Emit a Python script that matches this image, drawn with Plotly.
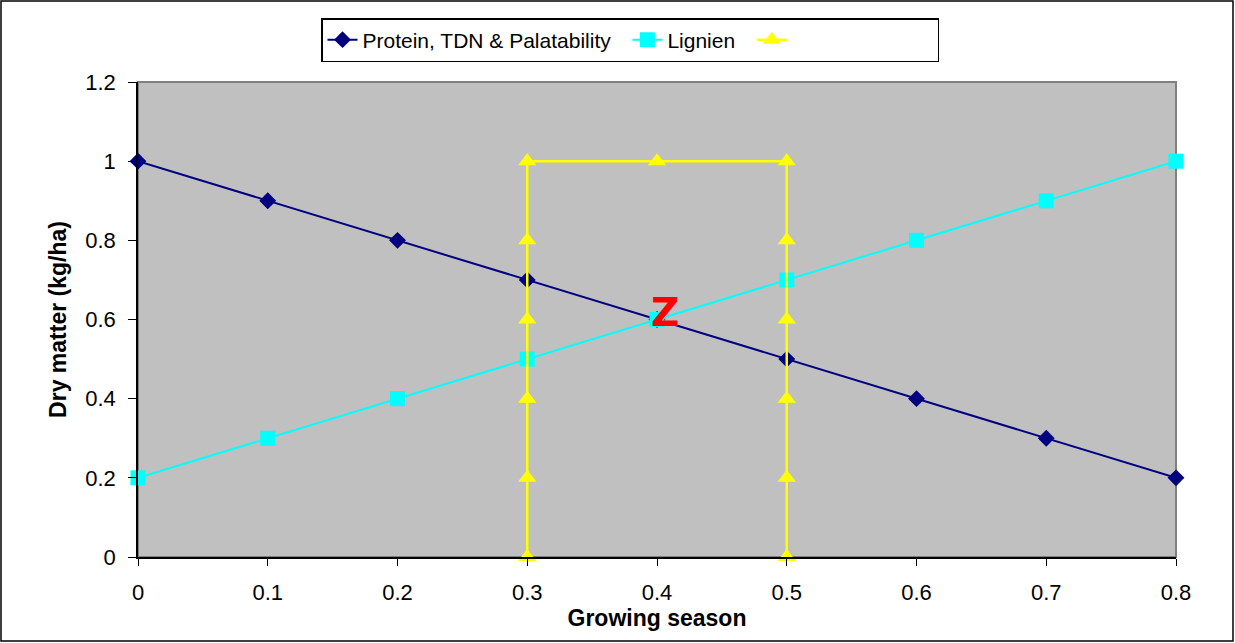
import plotly.graph_objects as go

x_season = [0, 0.1, 0.2, 0.3, 0.4, 0.5, 0.6, 0.7, 0.8]
protein = [1.0, 0.9, 0.8, 0.7, 0.6, 0.5, 0.4, 0.3, 0.2]
lignien = [0.2, 0.3, 0.4, 0.5, 0.6, 0.7, 0.8, 0.9, 1.0]
box_x = [0.3, 0.3, 0.3, 0.3, 0.3, 0.3, 0.4, 0.5, 0.5, 0.5, 0.5, 0.5, 0.5]
box_y = [0, 0.2, 0.4, 0.6, 0.8, 1.0, 1.0, 1.0, 0.8, 0.6, 0.4, 0.2, 0]
x_ticks = [0, 0.1, 0.2, 0.3, 0.4, 0.5, 0.6, 0.7, 0.8]
x_ticktext = ["0", "0.1", "0.2", "0.3", "0.4", "0.5", "0.6", "0.7", "0.8"]
y_ticks = [0, 0.2, 0.4, 0.6, 0.8, 1.0, 1.2]
y_ticktext = ["0", "0.2", "0.4", "0.6", "0.8", "1", "1.2"]

FONT = "Liberation Sans, Arial, sans-serif"
NB = "\u00a0"

fig = go.Figure()
fig.add_trace(go.Scatter(x=x_season, y=protein, mode="lines+markers",
                         name="Protein, TDN & Palatability" + NB * 2, cliponaxis=False,
                         line=dict(color="#000080", width=2),
                         marker=dict(symbol="diamond", size=13, color="#000080")))
fig.add_trace(go.Scatter(x=x_season, y=lignien, mode="lines+markers",
                         name="Lignien" + NB * 2, cliponaxis=False,
                         line=dict(color="#00FFFF", width=2),
                         marker=dict(symbol="square", size=15, color="#00FFFF")))
fig.add_trace(go.Scatter(x=box_x, y=box_y, mode="lines+markers",
                         name=NB * 24, cliponaxis=False,
                         line=dict(color="#FFFF00", width=2.5),
                         marker=dict(symbol="triangle-up", size=16, color="#FFFF00")))

fig.add_annotation(x=0.4, y=0.6, text="<b>Z</b>", showarrow=False,
                   font=dict(family="DejaVu Sans, sans-serif", size=39, color="#FF0000"),
                   xanchor="center", yanchor="middle", xshift=8, yshift=7)

# plot area border (gray)
fig.add_shape(type="rect", xref="x domain", yref="y domain", x0=0, x1=1, y0=0, y1=1,
              line=dict(color="#808080", width=2), layer="below")
# outer figure border
fig.add_shape(type="rect", xref="paper", yref="paper",
              x0=(1 - 138) / 1038, x1=(1233 - 138) / 1038,
              y0=(557 - 641) / 475, y1=(557 - 1) / 475,
              line=dict(color="#000000", width=1.5))

fig.update_layout(
    width=1235, height=643,
    margin=dict(l=138, r=59, t=82, b=86),
    paper_bgcolor="#FFFFFF", plot_bgcolor="#C0C0C0",
    font=dict(family=FONT, size=22, color="#000000"),
    showlegend=True,
    legend=dict(orientation="h", x=0.474, y=(557 - 18) / 475, xanchor="center", yanchor="top",
                bordercolor="#000000", borderwidth=1.5, bgcolor="#FFFFFF",
                font=dict(family=FONT, size=21), tracegroupgap=0),
    xaxis=dict(range=[0, 0.8], tickvals=x_ticks, ticktext=x_ticktext,
               showgrid=False, zeroline=False, showline=True, linecolor="#000000", linewidth=1.5,
               ticks="outside", ticklen=7, tickcolor="#000000", ticklabelstandoff=8,
               tickfont=dict(family=FONT, size=22),
               title=dict(text="<b>Growing season</b>", font=dict(family=FONT, size=23), standoff=0)),
    yaxis=dict(range=[0, 1.2], tickvals=y_ticks, ticktext=y_ticktext,
               showgrid=False, zeroline=False, showline=True, linecolor="#000000", linewidth=1.5,
               ticks="outside", ticklen=8, tickcolor="#000000", ticklabelstandoff=8,
               tickfont=dict(family=FONT, size=22),
               title=dict(text="<b>Dry matter (kg/ha)</b>", font=dict(family=FONT, size=23), standoff=12)),
)

fig.write_html("out.html")
